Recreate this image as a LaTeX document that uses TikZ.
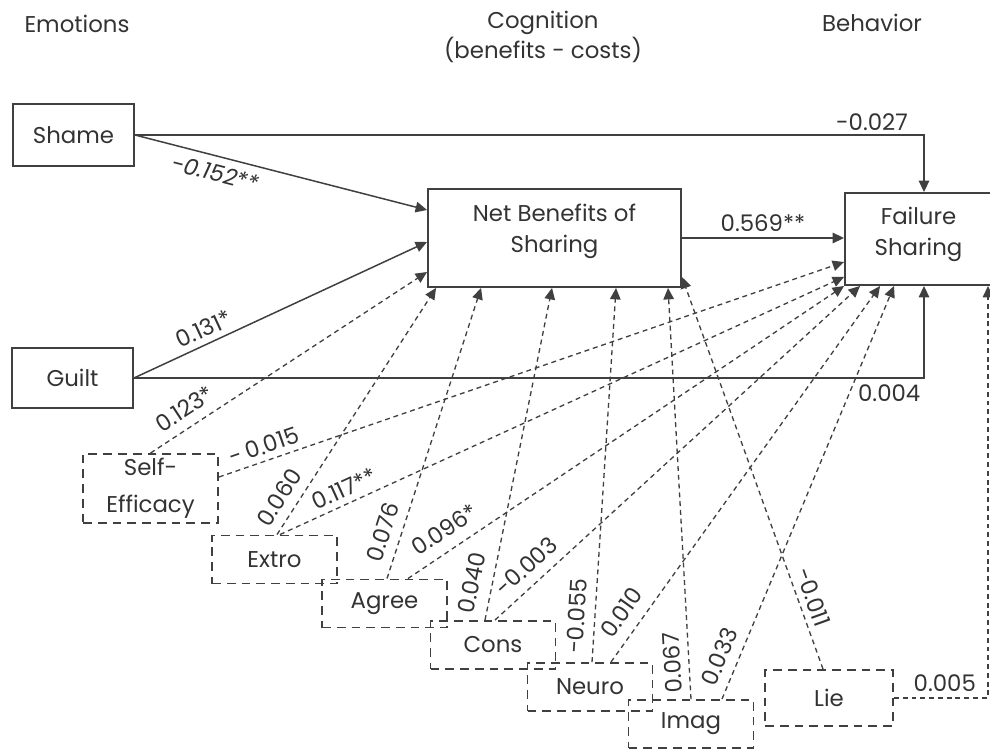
\documentclass[tikz,border=0pt]{standalone}
\usepackage{fontspec}
\setmainfont{Poppins}
\usetikzlibrary{arrows.meta,positioning}

\begin{document}
\begin{tikzpicture}[->, >={Triangle[length=6.5pt,width=6pt]}, line width=0.85pt, draw=black!75, text=black!80,
  font=\fontsize{13}{15}\selectfont,
  construct/.style={draw, rectangle, line width=1.1pt, align=center, inner sep=0pt},
  control/.style={draw, rectangle, line width=1.1pt, dash pattern=on 5pt off 3.4pt, align=center, inner sep=0pt, minimum width=2.5cm, minimum height=0.96cm},
  ctrl/.style={line width=0.75pt, dash pattern=on 2.8pt off 2.2pt},
  twoline/.style={align=center, font=\fontsize{13}{17.5}\selectfont}]
\useasboundingbox (0,0) rectangle (19.8,-14.98);

% column heads
\node (emotions) at (1.54,-0.48) {Emotions};
\node[twoline, font=\fontsize{13}{15.3}\selectfont] (cognition) at (10.86,-0.74) {Cognition\\(benefits - costs)};
\node (behavior) at (17.44,-0.46) {Behavior};

% constructs
\node[construct, minimum width=2.42cm, minimum height=1.24cm] (shame) at (1.47,-2.70) {Shame};
\node[construct, minimum width=2.42cm, minimum height=1.2cm] (guilt) at (1.45,-7.56) {Guilt};
\node[construct, minimum width=5.06cm, minimum height=1.96cm,
  label={[twoline, yshift=0.13cm]center:{Net Benefits of\\Sharing}}] (netben) at (11.09,-4.76) {};
\node[construct, minimum width=2.94cm, minimum height=1.84cm,
  label={[twoline, yshift=0.09cm]center:{Failure\\Sharing}}] (failure) at (18.37,-4.78) {};

% control variables
\node[control, twoline, font=\fontsize{13}{21}\selectfont, minimum width=2.7cm, minimum height=1.38cm] (selfeff) at (3.01,-9.77) {Self-\\Efficacy};
\node[control] (extro) at (5.49,-11.19) {Extro};
\node[control] (agree) at (7.69,-12.07) {Agree};
\node[control] (cons) at (9.86,-12.9) {Cons};
\node[control] (neuro) at (11.8,-13.74) {Neuro};
\node[control] (imag) at (13.82,-14.48) {Imag};
\node[control, minimum width=2.56cm, minimum height=1.12cm] (lie) at (16.58,-13.96) {Lie};

% main paths
\draw (shame.east) -| ([xshift=0.11cm]failure.north) node[pos=0.467, above=-1pt] {-0.027};
\path (shame.east) edge node[pos=0.29, below=1pt, sloped, font=\fontsize{13}{15}\itshape] {-0.152**} ([yshift=0.56cm]netben.west);
\path (guilt.east) edge node[pos=0.26, above, sloped] {0.131*} ([yshift=-0.08cm]netben.west);
\path (netben.east) edge node[midway, above] {0.569**} (netben.east -| failure.west);
\draw (guilt.east) -| ([xshift=0.11cm]failure.south) node[pos=0.478, below] {0.004};

% controls to net benefits / failure sharing
\path (selfeff.north) edge[ctrl] node[pos=0.16, above=2pt, sloped] {0.123*} ([yshift=-0.68cm]netben.west);
\path ([yshift=0.23cm]selfeff.east) edge[ctrl] node[pos=0.08, above, sloped] {-\,0.015} ([yshift=-0.46cm]failure.west);
\path ([xshift=0.05cm]extro.north) edge[ctrl] node[pos=0.11, above=2pt, sloped] {0.060} ([xshift=0.18cm]netben.south west);
\path ([xshift=0.11cm]extro.north) edge[ctrl] node[pos=0.125, above, sloped] {0.117**} ([yshift=0.18cm]failure.south west);
\path ([xshift=0.05cm]agree.north) edge[ctrl] node[pos=0.14, above=2pt, sloped] {0.076} ([xshift=1.08cm]netben.south west);
\path ([xshift=0.47cm]agree.north) edge[ctrl] node[pos=0.11, above=3pt, sloped] {0.096*} (failure.south west);
\path ([xshift=-0.16cm]cons.north) edge[ctrl] node[pos=0.1, above=3pt, sloped] {0.040} ([xshift=2.5cm]netben.south west);
\path ([xshift=0.04cm]cons.north) edge[ctrl] node[pos=0.12, above=2pt, sloped] {-0.003} ([xshift=0.32cm]failure.south west);
\path ([xshift=0.04cm]neuro.north) edge[ctrl] node[pos=0.12, above=2pt, sloped] {-0.055} ([xshift=3.78cm]netben.south west);
\path ([xshift=0.42cm]neuro.north) edge[ctrl] node[pos=0.1, above=3pt, sloped] {0.010} ([xshift=0.72cm]failure.south west);
\path (imag.north) edge[ctrl] node[pos=0.09, above=1pt, sloped, allow upside down] {0.067} ([xshift=4.82cm]netben.south west);
\path ([xshift=0.62cm]imag.north) edge[ctrl] node[pos=0.085, above=2pt, sloped] {0.033} ([xshift=1.0cm]failure.south west);
\path ([xshift=-0.12cm]lie.north) edge[ctrl] node[pos=0.17, above, sloped] {-0.011} ([yshift=0.22cm]netben.south east);
\draw[ctrl] (lie.east) -| ([xshift=1.39cm]failure.south) node[pos=0.27, above] {0.005};
\end{tikzpicture}
\end{document}
